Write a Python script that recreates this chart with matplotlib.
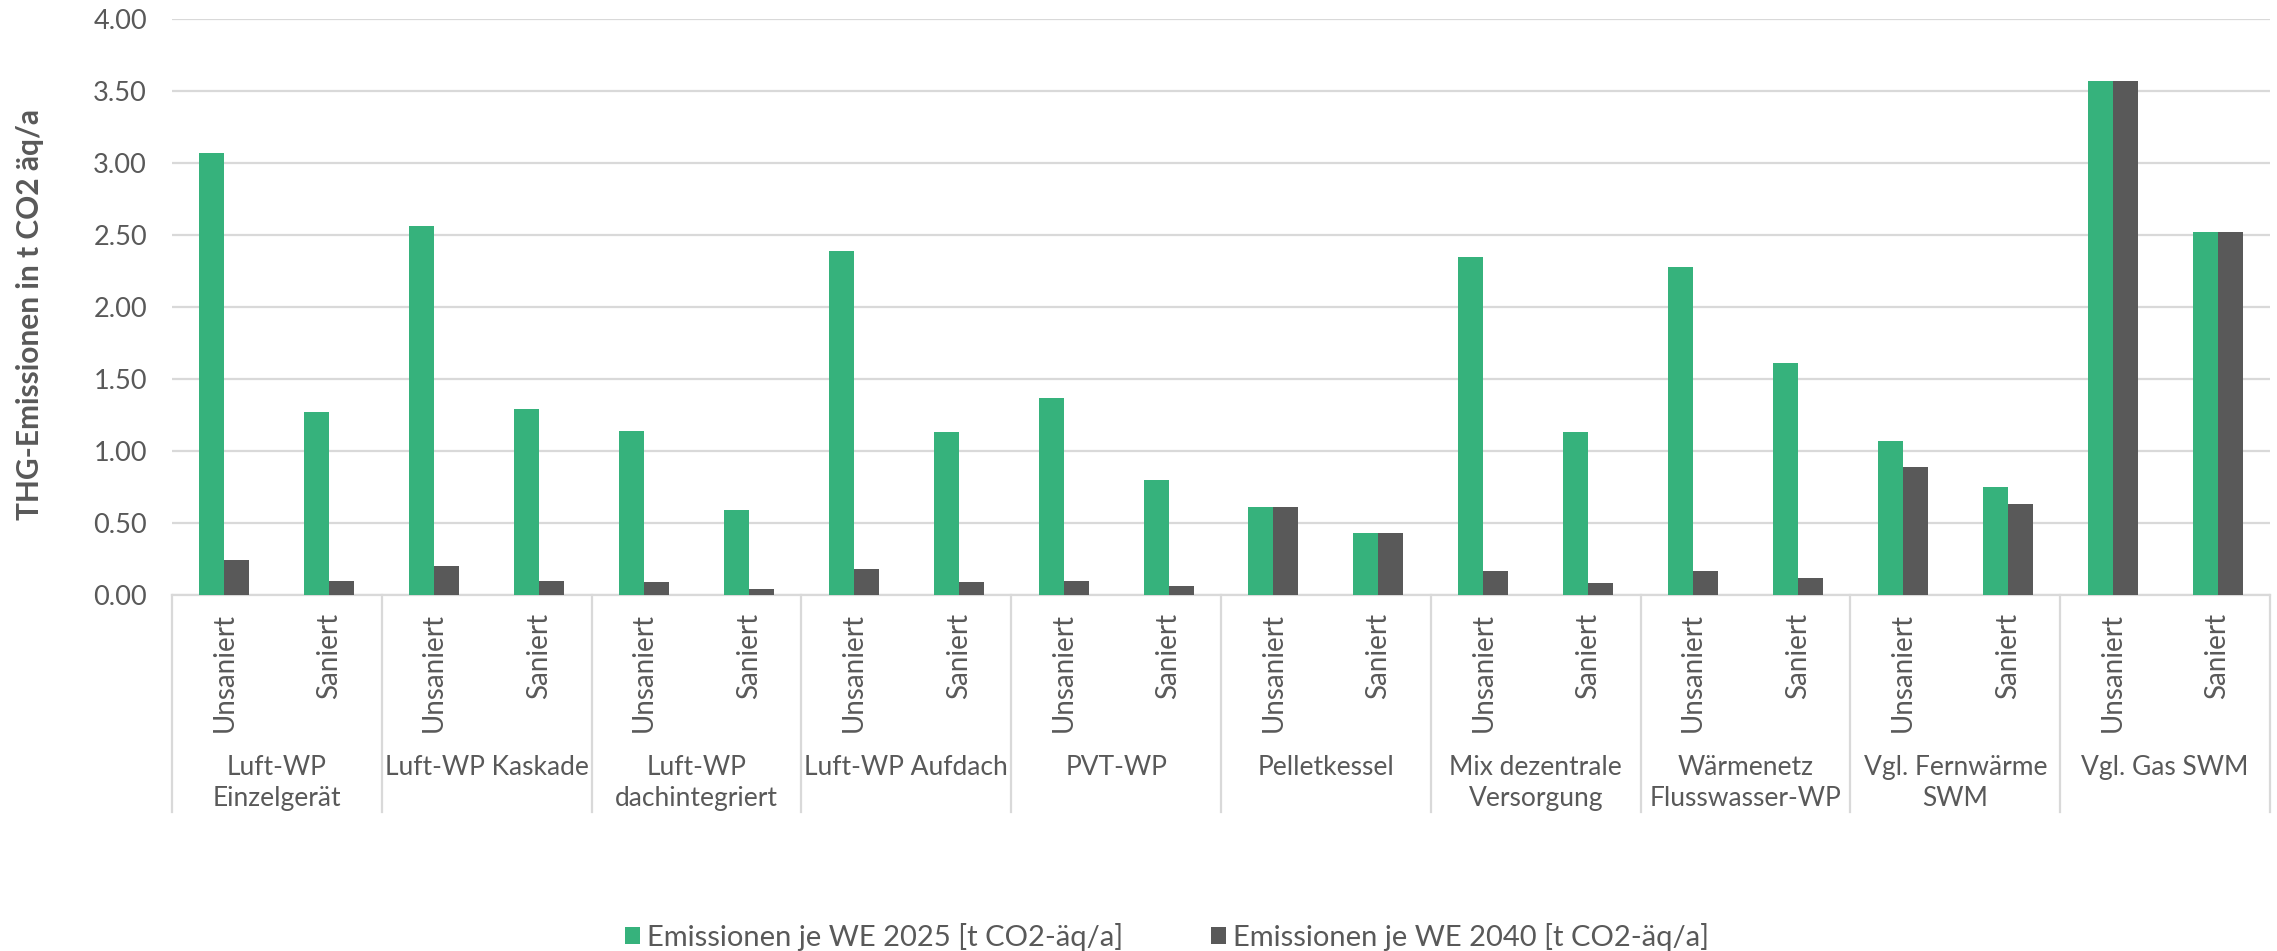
import matplotlib
matplotlib.use("Agg")
import matplotlib.pyplot as plt
from matplotlib.lines import Line2D
from matplotlib.transforms import blended_transform_factory
from matplotlib.patches import Patch
import numpy as np

# Heating systems (outer category level) and renovation state (inner level)
systems = [
    "Luft-WP\nEinzelgerät",
    "Luft-WP Kaskade",
    "Luft-WP\ndachintegriert",
    "Luft-WP Aufdach",
    "PVT-WP",
    "Pelletkessel",
    "Mix dezentrale\nVersorgung",
    "Wärmenetz\nFlusswasser-WP",
    "Vgl. Fernwärme\nSWM",
    "Vgl. Gas SWM",
]
states = ["Unsaniert", "Saniert"]

# Emissions per residential unit [t CO2-äq/a], ordered system by system (Unsaniert, Saniert)
emissions_2025 = [3.07, 1.27, 2.56, 1.29, 1.14, 0.59, 2.39, 1.13, 1.37, 0.80,
                  0.61, 0.43, 2.35, 1.13, 2.28, 1.61, 1.07, 0.75, 3.57, 2.52]
emissions_2040 = [0.24, 0.10, 0.20, 0.10, 0.09, 0.04, 0.18, 0.09, 0.10, 0.06,
                  0.61, 0.43, 0.17, 0.08, 0.17, 0.12, 0.89, 0.63, 3.57, 2.52]

series_labels = ["Emissionen je WE 2025 [t CO2-äq/a]", "Emissionen je WE 2040 [t CO2-äq/a]"]
y_ticks = [0.0, 0.5, 1.0, 1.5, 2.0, 2.5, 3.0, 3.5, 4.0]
y_label = "THG-Emissionen in t CO2 äq/a"

GREEN = "#36b27c"
DARK = "#595959"
TEXT = "#595959"
GRID = "#d9d9d9"

plt.rcParams["font.family"] = ["Lato", "DejaVu Sans"]

W, H = 2277, 951
fig = plt.figure(figsize=(W / 100, H / 100), dpi=100)
ax = fig.add_axes([172 / W, 1 - 595 / H, (2270 - 172) / W, (595 - 19) / H])

n = len(emissions_2025)
x = np.arange(n) + 0.5
bw = 0.238
ax.bar(x - bw / 2, emissions_2025, width=bw, color=GREEN, zorder=3, label=series_labels[0])
ax.bar(x + bw / 2, emissions_2040, width=bw, color=DARK, zorder=3, label=series_labels[1])

ax.set_xlim(0, n)
ax.set_ylim(0, 4.0)
ax.set_yticks(y_ticks)
ax.yaxis.set_major_formatter(matplotlib.ticker.FormatStrFormatter("%.2f"))
ax.tick_params(axis="y", length=0, pad=18, labelsize=19.5, labelcolor=TEXT)
ax.set_xticks([])
ax.grid(axis="y", color=GRID, linewidth=1.6, zorder=0)
for side in ("top", "right", "left"):
    ax.spines[side].set_visible(False)
ax.spines["bottom"].set_color(GRID)
ax.spines["bottom"].set_linewidth(1.6)

# Two-level category axis: renovation state (rotated) and system name
tr = blended_transform_factory(ax.transData, fig.transFigure)
for i in range(n):
    ax.text(x[i], 1 - 613 / H, states[i % 2], rotation=90, ha="center", va="top",
            fontsize=20, color=TEXT, transform=tr)
for g, name in enumerate(systems):
    ax.text(2 * g + 1, 1 - 755 / H, name, ha="center", va="top", fontsize=19,
            color=TEXT, transform=tr, linespacing=1.3, multialignment="center")
for g in range(len(systems) + 1):
    ax.add_line(Line2D([2 * g, 2 * g], [1 - 595 / H, 1 - 812 / H], transform=tr,
                       color=GRID, linewidth=1.6, clip_on=False))

fig.text(30 / W, 1 - 314 / H, y_label, rotation=90, ha="center", va="center",
         fontsize=21.5, fontweight="bold", color=TEXT)

handles = [Patch(facecolor=GREEN), Patch(facecolor=DARK)]
fig.legend(handles, series_labels, loc="center", bbox_to_anchor=(1167 / W, 14 / H),
           ncol=2, frameon=False, fontsize=21, labelcolor=TEXT,
           handlelength=0.52, handleheight=0.52, handletextpad=0.25,
           columnspacing=3.0, borderpad=0)

fig.savefig("out.png", dpi=100, facecolor="white")
